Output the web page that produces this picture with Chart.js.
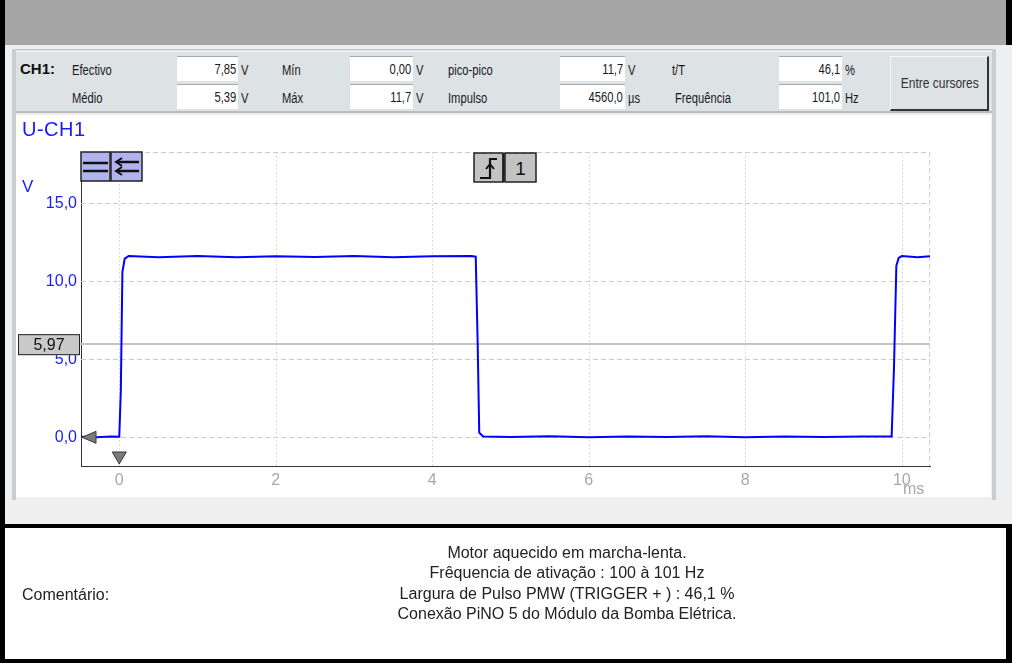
<!DOCTYPE html>
<html><head><meta charset="utf-8">
<script src="https://cdn.jsdelivr.net/npm/chart.js@4/dist/chart.umd.min.js"></script>
<style>
body{margin:0;width:1012px;height:663px;position:relative;overflow:hidden;background:#efefef;font-family:"Liberation Sans",Arial,sans-serif;}
.a{position:absolute}
.n{position:absolute;font-size:14px;color:#1a1a1a;line-height:24px;white-space:nowrap;transform:scaleX(0.8);transform-origin:0 50%}
.bx{position:absolute;background:#fff;border-top:1px solid #a9a9a9;height:25px;box-sizing:border-box;text-align:right;padding-right:2px;font-size:14px;line-height:24px;color:#1a1a1a;white-space:nowrap}
.bx span{display:inline-block;transform:scaleX(0.8);transform-origin:100% 50%}
</style></head><body>
<!-- frame -->
<div class="a" style="left:0;top:0;width:1012px;height:45px;background:#a6a6a6"></div>
<div class="a" style="left:0;top:0;width:5px;height:663px;background:#000"></div>
<div class="a" style="left:1006px;top:0;width:6px;height:45px;background:#000"></div>
<div class="a" style="left:12px;top:49px;width:4px;height:451px;background:#c9cdd0"></div>
<div class="a" style="left:992px;top:49px;width:4px;height:451px;background:#c9cdd0"></div>
<!-- header panel -->
<div class="a" style="left:16px;top:49px;width:976px;height:64px;background:#dde2e5;border-top:1px solid #bfc3c6;border-bottom:2px solid #b9bdc0;box-sizing:border-box"></div>
<div class="a" style="left:16px;top:51px;width:976px;height:1px;background:#f4f4f4"></div>
<div class="a" style="left:20px;top:57px;font-weight:bold;font-size:15px;line-height:24px;color:#111">CH1:</div>
<div class="n" style="left:72px;top:58px">Efectivo</div>
<div class="n" style="left:72px;top:86px">Médio</div>
<div class="bx" style="left:177px;top:56px;width:61px"><span>7,85</span></div>
<div class="bx" style="left:177px;top:84px;width:61px"><span>5,39</span></div>
<div class="n" style="left:241px;top:58px">V</div>
<div class="n" style="left:241px;top:86px">V</div>
<div class="n" style="left:282px;top:58px">Mín</div>
<div class="n" style="left:282px;top:86px">Máx</div>
<div class="bx" style="left:350px;top:56px;width:63px"><span>0,00</span></div>
<div class="bx" style="left:350px;top:84px;width:63px"><span>11,7</span></div>
<div class="n" style="left:416px;top:58px">V</div>
<div class="n" style="left:416px;top:86px">V</div>
<div class="n" style="left:448px;top:58px">pico-pico</div>
<div class="n" style="left:448px;top:86px">Impulso</div>
<div class="bx" style="left:560px;top:56px;width:65px"><span>11,7</span></div>
<div class="bx" style="left:560px;top:84px;width:65px"><span>4560,0</span></div>
<div class="n" style="left:628px;top:58px">V</div>
<div class="n" style="left:628px;top:86px">µs</div>
<div class="n" style="left:672px;top:58px">t/T</div>
<div class="n" style="left:675px;top:86px">Frequência</div>
<div class="bx" style="left:779px;top:56px;width:63px"><span>46,1</span></div>
<div class="bx" style="left:779px;top:84px;width:63px"><span>101,0</span></div>
<div class="n" style="left:845px;top:58px">%</div>
<div class="n" style="left:845px;top:86px">Hz</div>
<div class="a" style="left:890px;top:56px;width:99px;height:55px;box-sizing:border-box;background:#dde2e5;border-top:1px solid #f6f6f6;border-left:1px solid #f6f6f6;border-right:2px solid #333;border-bottom:2px solid #333;text-align:center;line-height:51px;font-size:15px;color:#333;white-space:nowrap"><span style="display:inline-block;transform:scaleX(0.8)">Entre cursores</span></div>
<!-- chart panel -->
<div class="a" style="left:16px;top:115px;width:975px;height:382px;background:#fff"></div>
<div class="a" style="left:5px;top:524px;width:1007px;height:139px;background:#000"></div>
<div class="a" style="left:5px;top:528px;width:1001px;height:131px;background:#fff"></div>
<canvas id="c" width="1012" height="663" class="a" style="left:0;top:0;width:1012px;height:663px;z-index:2"></canvas>
<!-- overlays -->
<div class="a" style="left:22px;top:119px;font-size:20px;line-height:20px;color:#1a1aff;z-index:3;letter-spacing:0.5px">U-CH1</div>
<div class="a" style="left:22px;top:178px;font-size:17px;line-height:17px;color:#1a1aff;z-index:3">V</div>
<div class="a" style="left:903px;top:481px;font-size:16px;line-height:16px;color:#a8a8a8;z-index:3">ms</div>
<svg class="a" style="left:80px;top:151px;z-index:3" width="64" height="32">
  <rect x="1" y="1" width="29" height="29" fill="#b0b3ee" stroke="#222" stroke-width="1.5"/>
  <rect x="31" y="1" width="31" height="29" fill="#b0b3ee" stroke="#222" stroke-width="1.5"/>
  <line x1="3" y1="12" x2="28" y2="12" stroke="#111" stroke-width="2.5"/>
  <line x1="3" y1="20" x2="28" y2="20" stroke="#111" stroke-width="2.5"/>
  <line x1="37" y1="11" x2="59" y2="11" stroke="#111" stroke-width="2.5"/>
  <line x1="37" y1="20" x2="59" y2="20" stroke="#111" stroke-width="2.5"/>
  <polyline points="42,7 36,11 42,15" fill="none" stroke="#111" stroke-width="2"/>
  <polyline points="42,16 36,20 42,24" fill="none" stroke="#111" stroke-width="2"/>
</svg>
<svg class="a" style="left:473px;top:152px;z-index:3" width="66" height="32">
  <rect x="1" y="1" width="29" height="29" fill="#c3c3c3" stroke="#222" stroke-width="1.5"/>
  <rect x="32" y="1" width="31" height="29" fill="#c3c3c3" stroke="#222" stroke-width="1.5"/>
  <line x1="30.5" y1="1" x2="30.5" y2="30" stroke="#222" stroke-width="2.5"/>
  <polyline points="7,26 17,26 17,7 24,7" fill="none" stroke="#111" stroke-width="2.2"/>
  <polyline points="13,17 17,12 21,17" fill="none" stroke="#111" stroke-width="2"/>
  <text x="47.5" y="23" font-size="19" text-anchor="middle" font-family="Liberation Sans, Arial" fill="#111">1</text>
</svg>
<div class="a" style="left:22px;top:587px;font-size:16px;line-height:16px;color:#222;z-index:3">Comentário:</div>
<div class="a" style="left:217px;top:543px;width:700px;text-align:center;font-size:16px;line-height:20.3px;color:#222;z-index:3">Motor aquecido em marcha-lenta.<br>Frêquencia de ativação : 100 à 101 Hz<br>Largura de Pulso PMW (TRIGGER + ) : 46,1 %<br>Conexão PiNO 5 do Módulo da Bomba Elétrica.</div>
<script>
// ---- data ----
const timeMs = [-0.49, -0.3, -0.1, 0.0, 0.02, 0.04, 0.07, 0.12, 0.5, 1.0, 1.5, 2.0, 2.5, 3.0, 3.5, 4.0, 4.5, 4.555, 4.58, 4.6, 4.65, 5.0, 5.5, 6.0, 6.5, 7.0, 7.5, 8.0, 8.5, 9.0, 9.5, 9.87, 9.9, 9.93, 9.96, 10.0, 10.2, 10.36];
const voltsCH1 = [0.03, 0.0, 0.05, 0.03, 3.0, 10.6, 11.45, 11.62, 11.55, 11.62, 11.55, 11.6, 11.56, 11.62, 11.55, 11.6, 11.62, 11.58, 6.0, 0.3, 0.05, 0.02, 0.06, 0.0, 0.05, 0.02, 0.06, 0.0, 0.05, 0.02, 0.05, 0.05, 4.5, 11.0, 11.5, 11.62, 11.55, 11.6];
const xTicks = [0, 2, 4, 6, 8, 10];
const yTicks = [0, 5, 10, 15];
const xRange = [-0.489, 10.36];
const yRange = [-1.84, 18.29];
const cursorLevel = 5.97;
const cursorLabel = '5,97';

const deco = {
  id: 'deco',
  beforeDatasetsDraw(chart) {
    const {ctx, chartArea: a, scales: {x, y}} = chart;
    ctx.save();
    ctx.lineWidth = 1;
    ctx.strokeStyle = '#dcdcdc';
    ctx.setLineDash([2, 2]);
    xTicks.forEach(v => { const px = Math.round(x.getPixelForValue(v)) + 0.5; ctx.beginPath(); ctx.moveTo(px, a.top); ctx.lineTo(px, a.bottom); ctx.stroke(); });
    ctx.strokeStyle = '#cdcdcd';
    ctx.setLineDash([5, 3]);
    yTicks.forEach(v => { const py = Math.round(y.getPixelForValue(v)) + 0.5; ctx.beginPath(); ctx.moveTo(a.left, py); ctx.lineTo(a.right, py); ctx.stroke(); });
    ctx.beginPath(); ctx.moveTo(a.left, a.top + 0.5); ctx.lineTo(a.right, a.top + 0.5); ctx.stroke();
    ctx.beginPath(); ctx.moveTo(a.right - 0.5, a.top); ctx.lineTo(a.right - 0.5, a.bottom); ctx.stroke();
    ctx.setLineDash([]);
    ctx.strokeStyle = '#c4c4c4';
    ctx.lineWidth = 2;
    const cy = Math.round(y.getPixelForValue(cursorLevel));
    ctx.beginPath(); ctx.moveTo(18, cy); ctx.lineTo(a.right, cy); ctx.stroke();
    ctx.restore();
  },
  afterDatasetsDraw(chart) {
    const {ctx, chartArea: a, scales: {x, y}} = chart;
    ctx.save();
    const y0 = y.getPixelForValue(0);
    ctx.fillStyle = '#7a7a7a'; ctx.strokeStyle = '#3a3a3a'; ctx.lineWidth = 1;
    ctx.beginPath(); ctx.moveTo(a.left + 1, y0); ctx.lineTo(a.left + 15, y0 - 6); ctx.lineTo(a.left + 15, y0 + 6); ctx.closePath(); ctx.fill(); ctx.stroke();
    const x0 = x.getPixelForValue(0);
    ctx.beginPath(); ctx.moveTo(x0 - 7, a.bottom - 14); ctx.lineTo(x0 + 7, a.bottom - 14); ctx.lineTo(x0, a.bottom - 2); ctx.closePath(); ctx.fill(); ctx.stroke();
    const cy = y.getPixelForValue(cursorLevel);
    ctx.fillStyle = '#c9c9c9';
    ctx.fillRect(18, cy - 10, 62, 21);
    ctx.strokeStyle = '#222'; ctx.lineWidth = 1;
    ctx.strokeRect(18.5, cy - 9.5, 61, 20);
    ctx.fillStyle = '#111';
    ctx.font = '16px "Liberation Sans", Arial, sans-serif';
    ctx.textAlign = 'center'; ctx.textBaseline = 'middle';
    ctx.fillText(cursorLabel, 49, cy + 1);
    ctx.restore();
  }
};

new Chart(document.getElementById('c'), {
  type: 'line',
  data: {
    datasets: [{
      data: timeMs.map((t, i) => ({x: t, y: voltsCH1[i]})),
      borderColor: '#0000ff',
      borderWidth: 2,
      pointRadius: 0,
      tension: 0,
      fill: false
    }]
  },
  options: {
    responsive: false,
    animation: false,
    devicePixelRatio: 1,
    layout: {padding: {top: 152, right: 82, left: 0, bottom: 0}},
    plugins: {legend: {display: false}, tooltip: {enabled: false}},
    scales: {
      x: {
        type: 'linear', min: xRange[0], max: xRange[1],
        afterFit: s => { s.height = 663 - 466; },
        afterBuildTicks: s => { s.ticks = xTicks.map(v => ({value: v})); },
        grid: {display: false, drawTicks: false},
        border: {display: true, color: '#333', width: 1},
        ticks: {padding: 5, color: '#a8a8a8', font: {family: '"Liberation Sans", Arial, sans-serif', size: 16}, maxRotation: 0, callback: v => String(v)}
      },
      y: {
        type: 'linear', min: yRange[0], max: yRange[1],
        afterFit: s => { s.width = 81; },
        afterBuildTicks: s => { s.ticks = yTicks.map(v => ({value: v})); },
        grid: {display: false, drawTicks: false},
        border: {display: true, color: '#333', width: 1},
        ticks: {padding: 4, color: '#1a1aff', font: {family: '"Liberation Sans", Arial, sans-serif', size: 16}, callback: v => v.toFixed(1).replace('.', ',')}
      }
    }
  },
  plugins: [deco]
});
</script>
</body></html>
